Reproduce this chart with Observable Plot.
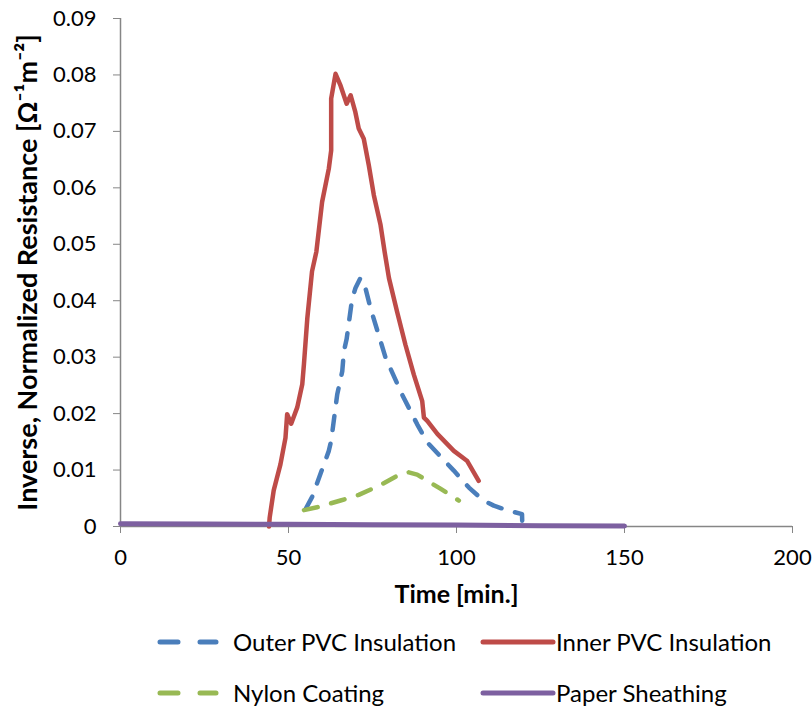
<!DOCTYPE html>
<html>
<head>
<meta charset="utf-8">
<script src="https://cdn.jsdelivr.net/npm/d3@7"></script>
<script src="https://cdn.jsdelivr.net/npm/@observablehq/plot@0.6"></script>
<style>
  body { margin: 0; background: #fff; font-family: Lato, "Open Sans", sans-serif; }
  #wrap { position: relative; width: 812px; height: 710px; }
  .leg { position: absolute; font-size: 24px; color: #000; white-space: nowrap; line-height: 28px; }
  .leg svg { position: absolute; left: 0; top: 0; overflow: visible; }
</style>
</head>
<body>
<div id="wrap"></div>
<script>
// ---- data ----
const xTicks = [0, 50, 100, 150, 200];
const yTicks = [0, 0.01, 0.02, 0.03, 0.04, 0.05, 0.06, 0.07, 0.08, 0.09];

const seriesNames = ["Outer PVC Insulation", "Inner PVC Insulation", "Nylon Coating", "Paper Sheathing"];
const seriesColors = ["#4A7EBB", "#BE4B48", "#98B954", "#7D60A0"];

const outerTime  = [55.1, 57.0, 62.0, 62.7, 64.5, 66.0, 66.5, 67.3, 68.9, 69.9, 71.4, 72.5, 74.4, 78.9, 83.8, 88.3, 91.3, 99.2, 103.7, 108.0, 111.1, 115.0, 119.5, 119.6];
const outerValue = [0.0031, 0.0052, 0.0134, 0.0152, 0.0234, 0.0275, 0.0311, 0.0332, 0.0402, 0.0422, 0.0440, 0.0432, 0.0387, 0.0299, 0.0234, 0.0181, 0.0149, 0.0099, 0.0069, 0.0046, 0.0037, 0.0029, 0.0022, 0.0];

const innerTime  = [44.2, 44.4, 45.6, 47.6, 49.1, 49.6, 50.8, 52.6, 54.1, 54.6, 55.6, 57.0, 58.3, 60.0, 62.0, 62.7, 62.7, 64.0, 65.5, 67.3, 68.5, 69.9, 70.9, 72.4, 73.9, 75.4, 77.4, 78.6, 79.9, 82.3, 84.8, 87.3, 89.8, 90.3, 91.3, 94.3, 99.2, 103.2, 106.6];
const innerValue = [0.0, 0.0016, 0.0064, 0.0110, 0.0157, 0.0199, 0.0182, 0.0211, 0.0252, 0.0288, 0.0369, 0.0452, 0.0487, 0.0575, 0.0634, 0.0666, 0.0758, 0.0802, 0.0781, 0.0749, 0.0764, 0.0734, 0.0705, 0.0687, 0.0640, 0.0587, 0.0534, 0.0487, 0.0440, 0.0381, 0.0322, 0.0269, 0.0222, 0.0193, 0.0187, 0.0164, 0.0134, 0.0116, 0.0081];

const nylonTime  = [54.6, 58.5, 65.5, 70.9, 76.9, 83.3, 85.8, 88.3, 95.2, 100.7];
const nylonValue = [0.0029, 0.0034, 0.0046, 0.0056, 0.0072, 0.0093, 0.0096, 0.0092, 0.0067, 0.0046];

const paperTime  = [0, 25, 50, 75, 100, 125, 150];
const paperValue = [0.0005, 0.00045, 0.0004, 0.0003, 0.00025, 0.00015, 0.0001];

const xLabel = "Time [min.]";
const yLabel = "Inverse, Normalized Resistance [Ω⁻¹m⁻²]";

// ---- build table ----
const toRows = (ts, vs, s) => ts.map((t, i) => ({time: t, value: vs[i], series: s}));
const outer = toRows(outerTime, outerValue, seriesNames[0]);
const inner = toRows(innerTime, innerValue, seriesNames[1]);
const nylon = toRows(nylonTime, nylonValue, seriesNames[2]);
const paper = toRows(paperTime, paperValue, seriesNames[3]);

const axisColor = "#868686";

const chart = Plot.plot({
  width: 812,
  height: 620,
  marginTop: 18,
  marginLeft: 120,
  marginRight: 20,
  marginBottom: 94,
  style: {fontFamily: "Lato, 'Open Sans', sans-serif", fontSize: "22px", color: "#000", background: "#fff", overflow: "visible"},
  x: {domain: [0, 200]},
  y: {domain: [0, 0.09]},
  marks: [
    Plot.axisX({ticks: xTicks, tickSize: 7, tickPadding: 16, stroke: axisColor, label: null, tickFormat: d => String(d), fill: "#000"}),
    Plot.axisY({ticks: yTicks, tickSize: 7, tickPadding: 17, stroke: axisColor, label: null, tickFormat: d => d === 0 ? "0" : d.toFixed(2), fill: "#000"}),
    Plot.ruleX([0], {stroke: axisColor, strokeWidth: 1.5}),
    Plot.ruleY([0], {stroke: axisColor, strokeWidth: 1.5}),
    Plot.line(outer, {x: "time", y: "value", stroke: seriesColors[0], strokeWidth: 4.5, strokeDasharray: "14,14", strokeLinecap: "round", strokeLinejoin: "round"}),
    Plot.line(inner, {x: "time", y: "value", stroke: seriesColors[1], strokeWidth: 4.5, strokeLinejoin: "round"}),
    Plot.line(nylon, {x: "time", y: "value", stroke: seriesColors[2], strokeWidth: 4.5, strokeDasharray: "14,14", strokeLinecap: "round", strokeLinejoin: "round"}),
    Plot.line(paper, {x: "time", y: "value", stroke: seriesColors[3], strokeWidth: 5, strokeLinecap: "round"}),
    Plot.text([xLabel], {frameAnchor: "bottom", dy: 76, fontWeight: "bold", fontSize: 25, fill: "#000"}),
    Plot.text([yLabel], {frameAnchor: "left", textAnchor: "middle", dx: -92, rotate: -90, fontWeight: "bold", fontSize: 27, fill: "#000"})
  ]
});

const wrap = document.getElementById("wrap");
wrap.appendChild(chart);

// ---- legend ----
const legendPos = [
  {x: 157, y: 628, lineW: 62, textX: 233},
  {x: 483, y: 628, lineW: 70, textX: 556},
  {x: 157, y: 679, lineW: 62, textX: 233},
  {x: 483, y: 679, lineW: 70, textX: 556}
];
const dashed = [true, false, true, false];
seriesNames.forEach((name, i) => {
  const p = legendPos[i];
  const d = document.createElement("div");
  d.className = "leg";
  d.style.left = p.x + "px";
  d.style.top = p.y + "px";
  d.style.width = "320px";
  d.style.height = "28px";
  const ns = "http://www.w3.org/2000/svg";
  const s = document.createElementNS(ns, "svg");
  s.setAttribute("width", p.lineW + 4);
  s.setAttribute("height", 28);
  const l = document.createElementNS(ns, "line");
  l.setAttribute("x1", dashed[i] ? 3 : 0);
  l.setAttribute("x2", dashed[i] ? p.lineW - 3 : p.lineW);
  l.setAttribute("y1", 14);
  l.setAttribute("y2", 14);
  l.setAttribute("stroke", seriesColors[i]);
  l.setAttribute("stroke-width", 5);
  l.setAttribute("stroke-linecap", "round");
  if (dashed[i]) l.setAttribute("stroke-dasharray", "18,22");
  s.appendChild(l);
  d.appendChild(s);
  const t = document.createElement("span");
  t.textContent = name;
  t.style.position = "absolute";
  t.style.left = (p.textX - p.x) + "px";
  t.style.top = "0px";
  d.appendChild(t);
  wrap.appendChild(d);
});
</script>
</body>
</html>
